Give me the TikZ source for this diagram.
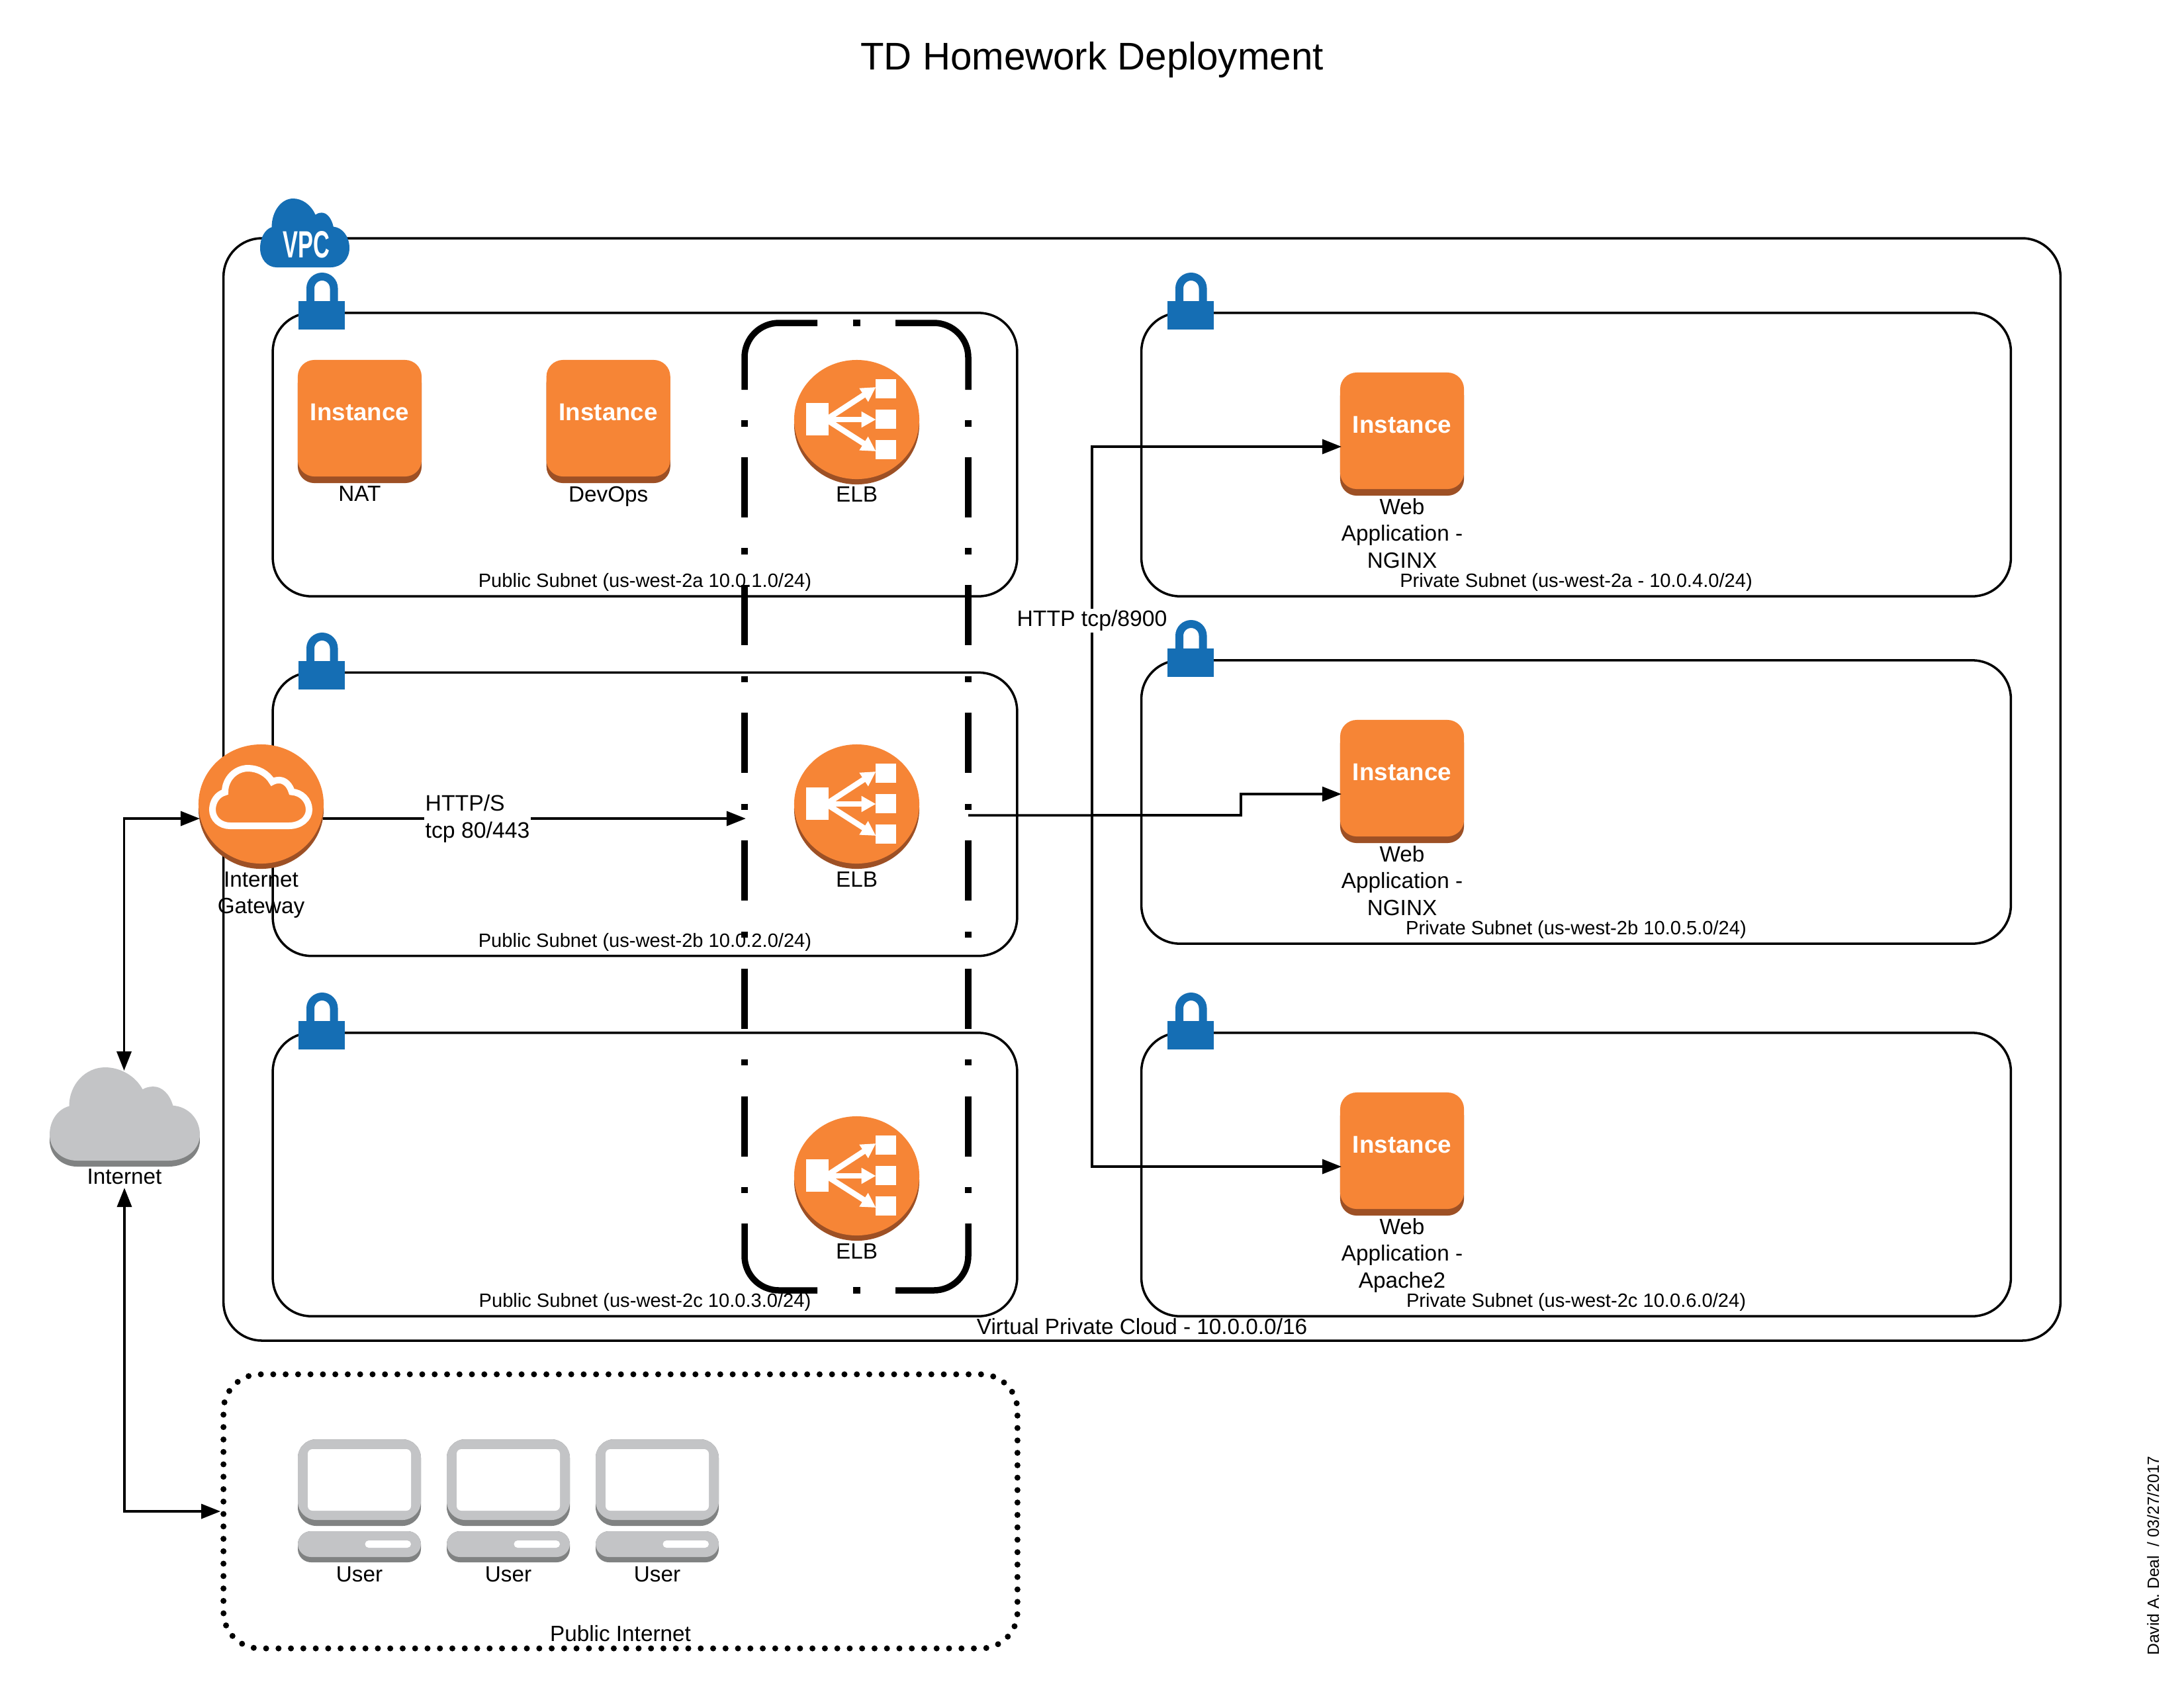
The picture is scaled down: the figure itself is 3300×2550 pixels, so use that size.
\documentclass[tikz,border=0pt]{standalone}
\usepackage{fontspec}
\setmainfont{Liberation Sans}
\usetikzlibrary{positioning,arrows.meta,shapes.geometric}
\definecolor{awsorange}{RGB}{246,133,54}
\definecolor{awsshade}{RGB}{157,80,37}
\definecolor{awsblue}{RGB}{21,110,180}
\definecolor{netgrey}{RGB}{195,196,198}
\definecolor{netshade}{RGB}{128,130,130}
\newcommand{\cloudoutline}{(.13,.416) .. controls (.05,.45) and (0,.58) .. (0,.72) .. controls (0,.88) and (.08,1) .. (.184,1) -- (.79,1) .. controls (.91,1) and (1,.88) .. (1,.72) .. controls (1,.55) and (.92,.42) .. (.821,.41) .. controls (.80,.29) and (.75,.206) .. (.69,.206) .. controls (.66,.206) and (.635,.22) .. (.619,.236) .. controls (.57,.09) and (.47,0) .. (.369,0) .. controls (.24,0) and (.13,.18) .. (.13,.416) -- cycle}

\begin{document}
\begin{tikzpicture}[
    x=0.01cm, y=-0.01cm,
    vpcbox/.style={draw, line width=1pt, rounded corners=0.58cm, minimum width=27.74cm, minimum height=16.65cm},
    subnet/.style={draw, line width=1pt, rounded corners=0.58cm, minimum height=4.28cm, inner sep=0pt},
    pubsubnet/.style={subnet, minimum width=11.24cm},
    privsubnet/.style={subnet, minimum width=13.13cm},
    pubnetbox/.style={draw, line width=0.09cm, line cap=round, dash pattern=on 0pt off 0.18752cm, rounded corners=0.55cm, minimum width=11.99cm, minimum height=4.14cm},
    instance/.style={fill=awsorange, rounded corners=0.25cm, minimum width=1.87cm, minimum height=1.76cm, inner sep=0pt, outer sep=0pt, text=white, font=\fontsize{10.45}{12}\selectfont\bfseries, text height=0.28cm, text depth=0.22cm, preaction={fill=awsshade, transform canvas={yshift=-0.1cm}}},
    disc/.style={ellipse, fill=awsorange, minimum width=1.89cm, minimum height=1.80cm, inner sep=0pt, outer sep=0pt, preaction={fill=awsshade, transform canvas={yshift=-0.08cm}}},
    caption/.style={font=\fontsize{9.47}{11.57}\selectfont, align=center, inner sep=0pt, outer sep=0pt},
    subnetlabel/.style={font=\fontsize{8.28}{10}\selectfont, inner sep=0pt, anchor=base},
    connlabel/.style={font=\fontsize{9.6}{11.57}\selectfont, align=left, fill=white, inner sep=0.02cm},
    arrow/.style={-{Triangle[length=0.29cm, width=0.22cm]}, line width=1pt},
    biarrow/.style={{Triangle[length=0.29cm, width=0.22cm]}-{Triangle[length=0.29cm, width=0.22cm]}, line width=1pt},
    elbframe/.style={line width=0.095cm, rounded corners=0.52cm},
    elbdash/.style={line width=0.095cm, dash pattern=on 0.91cm off 0.4625cm on 0.095cm off 0.4625cm},
    lockicon/.pic={
        \fill[awsblue] (0,43) rectangle (70,86);
        \draw[awsblue, line width=0.12cm] (18,45) -- (18,23.75) arc[start angle=180, end angle=0, radius=0.1775cm] -- (53.5,45);
    },
    usericon/.pic={
        \fill[netshade, rounded corners=0.28cm] (0,0) rectangle (186,131);
        \fill[netgrey, rounded corners=0.28cm] (0,0) rectangle (186,122);
        \fill[white, rounded corners=0.07cm] (15,15) rectangle (171,108);
        \fill[netshade, rounded corners=0.2cm] (0,139) rectangle (186,186);
        \fill[netgrey, rounded corners=0.2cm] (0,139) rectangle (186,178);
        \fill[white, rounded corners=0.055cm] (101.5,153) rectangle (171,164);
    },
    elbglyph/.pic={
        \fill[white] (-76.5,-25) rectangle (-42.5,24);
        \fill[white] (28.5,-61) rectangle (59.5,-32);
        \fill[white] (28.5,-15) rectangle (59.5,14);
        \fill[white] (28.5,31) rectangle (59.5,60);
        \foreach \ytip in {-49,0,48}
            \draw[white, line width=0.085cm, -{Triangle[length=0.22cm, width=0.23cm]}] (-46,0) -- (29,\ytip);
    }
]
    \useasboundingbox (0,0) rectangle (3300,2550);

    % Title
    \node[font=\fontsize{16.57}{20}\selectfont, inner sep=0pt, anchor=base] (title) at (1650,105) {TD Homework Deployment};

    % VPC
    \node[vpcbox] (vpc) at (1725.5,1193) {};
    \fill[awsblue, shift={(393,300)}, xscale=135, yscale=104] \cloudoutline;
    \node[font=\fontsize{16.3}{20}\selectfont\bfseries, text=white, inner sep=0pt, anchor=base] (vpctag) at (463,389) {\scalebox{0.6}[1]{VPC}};
    \node[caption, anchor=base] (vpclabel) at ([yshift=0.11cm]vpc.south) {Virtual Private Cloud - 10.0.0.0/16};

    % Public subnets
    \node[pubsubnet] (pubone) at (974.5,687) {};
    \node[pubsubnet] (pubtwo) at (974.5,1230.5) {};
    \node[pubsubnet] (pubthree) at (974.5,1775) {};
    \node[subnetlabel] (pubonelabel) at ([yshift=0.15cm]pubone.south) {Public Subnet (us-west-2a 10.0.1.0/24)};
    \node[subnetlabel] (pubtwolabel) at ([yshift=0.15cm]pubtwo.south) {Public Subnet (us-west-2b 10.0.2.0/24)};
    \node[subnetlabel] (pubthreelabel) at ([yshift=0.15cm]pubthree.south) {Public Subnet (us-west-2c 10.0.3.0/24)};

    % Private subnets
    \node[privsubnet] (privone) at (2381.5,687) {};
    \node[privsubnet] (privtwo) at (2381.5,1212) {};
    \node[privsubnet] (privthree) at (2381.5,1775) {};
    \node[subnetlabel] (privonelabel) at ([yshift=0.15cm]privone.south) {Private Subnet (us-west-2a - 10.0.4.0/24)};
    \node[subnetlabel] (privtwolabel) at ([yshift=0.15cm]privtwo.south) {Private Subnet (us-west-2b 10.0.5.0/24)};
    \node[subnetlabel] (privthreelabel) at ([yshift=0.15cm]privthree.south) {Private Subnet (us-west-2c 10.0.6.0/24)};

    % Locks
    \foreach \lx/\ly in {451/412, 451/956, 451/1500, 1764/412, 1764/937, 1764/1500}
        \pic at (\lx,\ly) {lockicon};

    % ELB group frame
    \node[minimum width=3.38cm, minimum height=14.62cm, inner sep=0pt, outer sep=0pt] (elbgroup) at (1294,1219) {};
    \draw[elbframe] (1125,589) |- (1235,488);
    \draw[elbframe] (1463,589) |- (1353,488);
    \draw[elbframe] (1125,1849) |- (1235,1950);
    \draw[elbframe] (1463,1849) |- (1353,1950);
    \draw[elbdash, dash phase=0.91cm] (1125,589) -- (1125,1849);
    \draw[elbdash, dash phase=0.91cm] (1463,589) -- (1463,1849);
    \draw[elbframe] (1288.5,488) -- (1299.5,488);
    \draw[elbframe] (1288.5,1950) -- (1299.5,1950);

    % Instances
    \node[instance] (nat) at (543.5,632) {Instance};
    \node[caption, below=0.15cm of nat] (natlabel) {NAT};
    \node[instance, right=1.885cm of nat] (devops) {Instance};
    \node[caption, below=0.15cm of devops] (devopslabel) {DevOps};
    \node[instance] (webone) at (2118.5,651) {Instance};
    \node[caption, below=0.14cm of webone] (webonelabel) {Web\\Application -\\NGINX};
    \node[instance] (webtwo) at (2118.5,1176) {Instance};
    \node[caption, below=0.14cm of webtwo] (webtwolabel) {Web\\Application -\\NGINX};
    \node[instance] (webthree) at (2118.5,1739) {Instance};
    \node[caption, below=0.14cm of webthree] (webthreelabel) {Web\\Application -\\Apache2};

    % Load balancers
    \node[disc] (elbone) at (1294.5,634) {};
    \node[disc] (elbtwo) at (1294.5,1215) {};
    \node[disc] (elbthree) at (1294.5,1777) {};
    \pic at (elbone) {elbglyph};
    \pic at (elbtwo) {elbglyph};
    \pic at (elbthree) {elbglyph};
    \node[caption, below=0.12cm of elbone] (elbonelabel) {ELB};
    \node[caption, below=0.12cm of elbtwo] (elbtwolabel) {ELB};
    \node[caption, below=0.12cm of elbthree] (elbthreelabel) {ELB};

    % Internet cloud
    \fill[netshade, shift={(75,1622)}, xscale=227, yscale=141] \cloudoutline;
    \fill[netgrey, shift={(75,1613)}, xscale=227, yscale=141] \cloudoutline;
    \node[minimum width=2.27cm, minimum height=1.46cm, inner sep=0pt, outer sep=0pt] (internet) at (187.5,1691) {};
    \node[caption, anchor=base] (internetlabel) at (188,1789) {Internet};

    % Public internet with users
    \node[pubnetbox] (pubnet) at (937.5,2284) {};
    \node[caption, anchor=base] (pubnetlabel) at ([yshift=0.15cm]pubnet.south) {Public Internet};
    \foreach \ux/\uname in {450/usera, 675/userb, 900/userc} {
        \pic at (\ux,2175) {usericon};
        \node[caption, anchor=base] (\uname) at (\ux+93,2390) {User};
    }

    % Connectors
    \coordinate (httpsin) at (488,1237);
    \coordinate (httpout) at ([yshift=-0.13cm]elbgroup.east);
    \coordinate (httptrunk) at (1650,1232);
    \draw[arrow] (httpsin) -- ([xshift=0.02cm]httpsin -| elbgroup.west);
    \draw[line width=1pt] (httpout) -- (httptrunk);
    \draw[arrow] (httptrunk) -- (1875,1232) |- ([xshift=0.02cm, yshift=-0.24cm]webtwo.west);
    \draw[arrow] (httptrunk) |- ([xshift=0.02cm, yshift=-0.24cm]webone.west);
    \draw[arrow] (httptrunk) |- ([xshift=0.02cm, yshift=-0.24cm]webthree.west);

    % Gateway
    \node[disc] (igw) at (394.5,1215) {};
    \draw[white, line width=0.1cm, shift={(321,1161)}, xscale=146, yscale=87] \cloudoutline;
    \node[caption, below=0.12cm of igw] (igwlabel) {Internet\\Gateway};
    \draw[biarrow] ([xshift=0.02cm, yshift=-0.22cm]igw.west) -| (internet.north);
    \draw[biarrow] ([yshift=-0.06cm]internetlabel.base) |- (pubnet.west);

    % Connector labels
    \node[connlabel, anchor=west] (httpslabel) at (640,1237) {HTTP/S\\tcp 80/443};
    \node[connlabel] (httplabel) at (1650,938) {HTTP tcp/8900};

    % Signature
    \node[font=\fontsize{7}{8}\selectfont, rotate=90, inner sep=0pt, anchor=base] (signature) at (3262,2351) {David A. Deal\ \ / 03/27/2017};
\end{tikzpicture}
\end{document}
